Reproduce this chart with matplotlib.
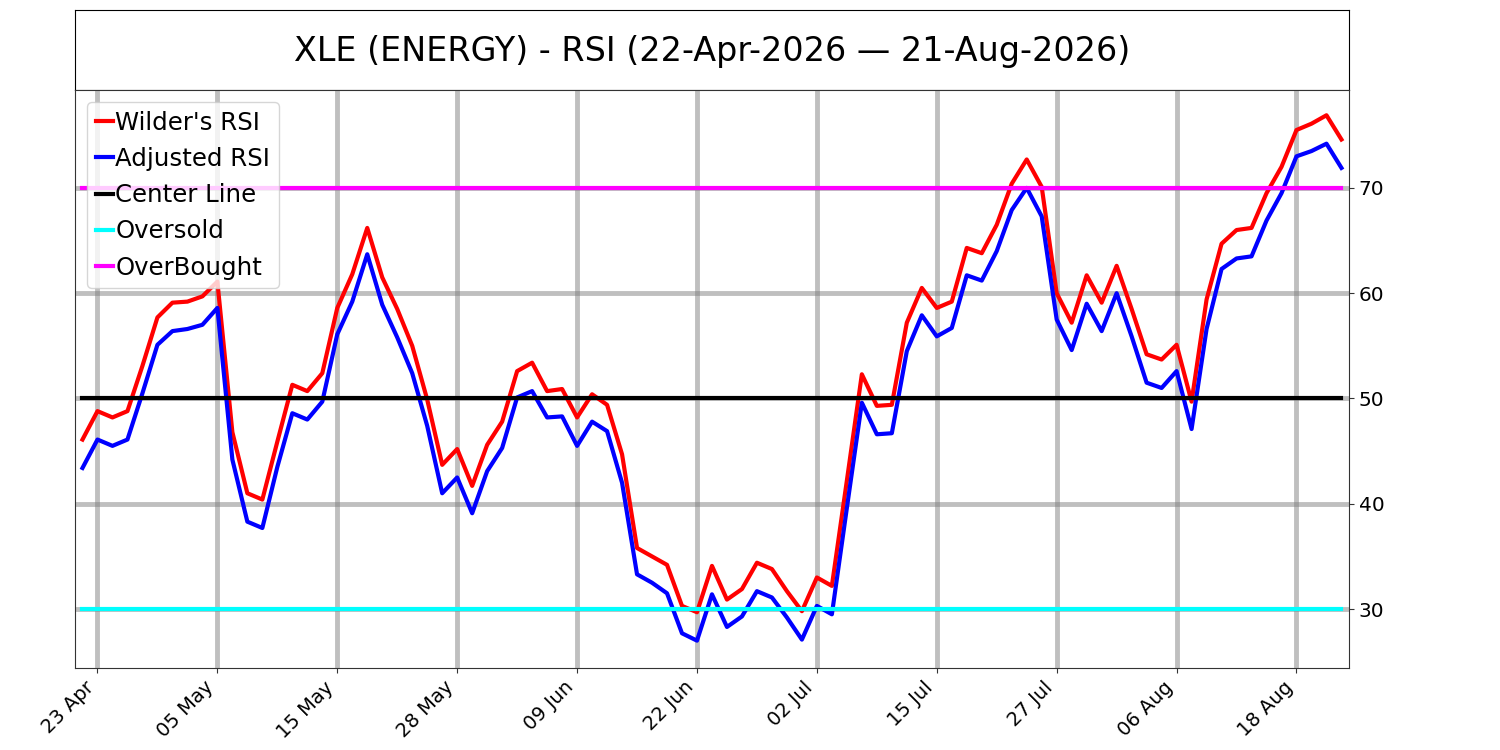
import matplotlib
matplotlib.use("Agg")
import matplotlib.pyplot as plt
import pandas as pd

# trading days 22-Apr-2026 .. 21-Aug-2026 (US market holidays removed)
holidays = ["2026-05-25", "2026-06-19", "2026-07-03"]
dates = pd.bdate_range("2026-04-22", "2026-08-21")
dates = dates[~dates.isin(pd.to_datetime(holidays))]

wilder_rsi = [46.1, 48.8, 48.2, 48.8, 53.1, 57.7, 59.1, 59.2, 59.7, 61.1,
              46.8, 41.0, 40.4, 45.9, 51.3, 50.7, 52.4, 58.6, 61.8, 66.2,
              61.5, 58.5, 55.0, 49.9, 43.7, 45.2, 41.7, 45.6, 47.8, 52.6,
              53.4, 50.7, 50.9, 48.2, 50.4, 49.4, 44.7, 35.8, 35.0, 34.2,
              30.3, 29.7, 34.1, 30.9, 31.9, 34.4, 33.8, 31.7, 29.8, 33.0,
              32.2, 42.2, 52.3, 49.3, 49.4, 57.2, 60.5, 58.6, 59.2, 64.3,
              63.8, 66.5, 70.4, 72.7, 70.1, 60.0, 57.2, 61.7, 59.1, 62.6,
              58.5, 54.2, 53.7, 55.1, 49.7, 59.4, 64.7, 66.0, 66.2, 69.5,
              72.0, 75.5, 76.1, 76.9, 74.6]
adjusted_rsi = [43.4, 46.1, 45.5, 46.1, 50.5, 55.1, 56.4, 56.6, 57.0, 58.6,
                44.2, 38.3, 37.7, 43.5, 48.6, 48.0, 49.7, 56.1, 59.2, 63.7,
                58.9, 55.8, 52.4, 47.4, 41.0, 42.5, 39.1, 43.1, 45.3, 50.1,
                50.7, 48.2, 48.3, 45.5, 47.8, 46.9, 42.0, 33.3, 32.5, 31.5,
                27.7, 27.0, 31.4, 28.3, 29.3, 31.7, 31.1, 29.2, 27.1, 30.3,
                29.5, 39.6, 49.6, 46.6, 46.7, 54.5, 57.9, 55.9, 56.7, 61.7,
                61.2, 64.0, 67.9, 70.0, 67.3, 57.5, 54.6, 59.0, 56.4, 60.0,
                55.9, 51.5, 51.0, 52.6, 47.1, 56.6, 62.3, 63.3, 63.5, 66.9,
                69.5, 73.0, 73.5, 74.2, 71.9]
center_level = 50
oversold_level = 30
overbought_level = 70
title = "XLE (ENERGY) - RSI (22-Apr-2026 \u2014 21-Aug-2026)"

fig = plt.figure(figsize=(15, 7.5), dpi=100)

# title box
tax = fig.add_axes([0.05, 0.88, 0.8493, 0.1067])
tax.set_xticks([])
tax.set_yticks([])
tax.text(0.5, 0.48, title, ha="center", va="center", fontsize=24, transform=tax.transAxes)

ax = fig.add_axes([0.05, 0.1093, 0.8493, 0.7707])
x = list(range(len(dates)))
n = len(x)
ax.plot(x, wilder_rsi, color="red", lw=3, label="Wilder's RSI")
ax.plot(x, adjusted_rsi, color="blue", lw=3, label="Adjusted RSI")
ax.plot(x, [center_level] * n, color="black", lw=3, label="Center Line")
ax.plot(x, [oversold_level] * n, color="cyan", lw=3, label="Oversold")
ax.plot(x, [overbought_level] * n, color="magenta", lw=3, label="OverBought")

tick_idx = x[1::8]
ax.set_xticks(tick_idx)
ax.set_xticklabels([dates[i].strftime("%d %b") for i in tick_idx], rotation=45, ha="right", fontsize=14)
ax.set_yticks([30, 40, 50, 60, 70])
ax.yaxis.tick_right()
ax.tick_params(axis="y", labelsize=14.5, colors="#333333", labelcolor="black")
ax.tick_params(axis="x", colors="#333333", labelcolor="black")
for s in ax.spines.values():
    s.set_color("#333333")
ax.grid(True, color="gray", alpha=0.5, lw=3.5)
ax.set_axisbelow(True)
ax.set_xlim(-0.5, 84.5)
ax.set_ylim(24.4, 79.3)
ax.legend(loc="upper left", fontsize=17.6, handlelength=0.7, handletextpad=0.1,
          borderaxespad=0.5, labelspacing=0.5, borderpad=0.35)

fig.savefig("out.png", dpi=100)
